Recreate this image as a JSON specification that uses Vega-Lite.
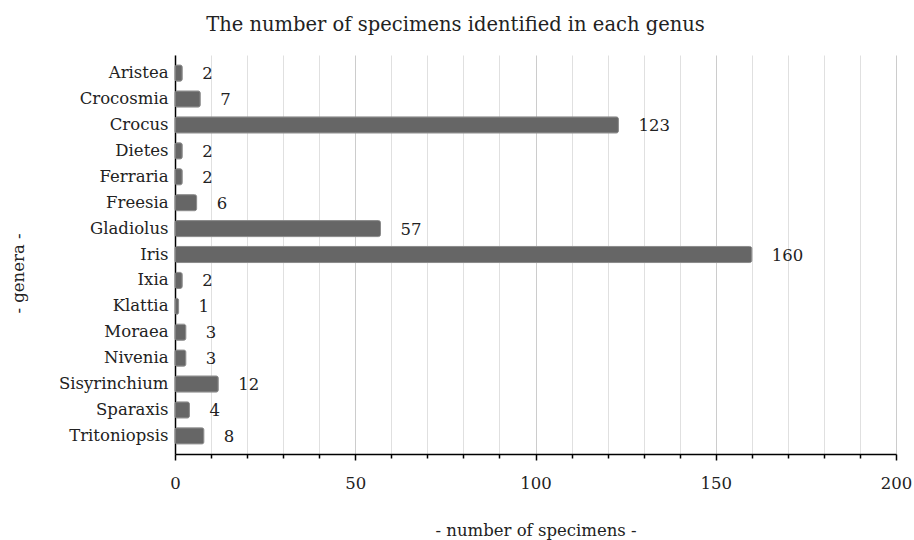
{
  "$schema": "https://vega.github.io/schema/vega-lite/v6.json",
  "width": 721,
  "height": 399,
  "autosize": {"type": "none"},
  "padding": {"left": 175, "top": 55, "right": 18, "bottom": 86},
  "background": "white",
  "title": {
    "text": "The number of specimens identified in each genus",
    "font": "DejaVu Serif",
    "fontSize": 19.5,
    "fontWeight": "normal",
    "color": "#222222",
    "anchor": "middle",
    "dx": -80,
    "offset": 20
  },
  "data": {
    "values": [
      {"genus": "Aristea", "count": 2},
      {"genus": "Crocosmia", "count": 7},
      {"genus": "Crocus", "count": 123},
      {"genus": "Dietes", "count": 2},
      {"genus": "Ferraria", "count": 2},
      {"genus": "Freesia", "count": 6},
      {"genus": "Gladiolus", "count": 57},
      {"genus": "Iris", "count": 160},
      {"genus": "Ixia", "count": 2},
      {"genus": "Klattia", "count": 1},
      {"genus": "Moraea", "count": 3},
      {"genus": "Nivenia", "count": 3},
      {"genus": "Sisyrinchium", "count": 12},
      {"genus": "Sparaxis", "count": 4},
      {"genus": "Tritoniopsis", "count": 8}
    ]
  },
  "config": {
    "view": {"stroke": null},
    "font": "DejaVu Serif"
  },
  "encoding": {
    "y": {
      "field": "genus",
      "type": "nominal",
      "sort": null,
      "scale": {"paddingInner": 0.38, "paddingOuter": 0.39},
      "axis": {
        "title": "- genera -",
        "titleFont": "DejaVu Serif",
        "titleFontSize": 16.5,
        "titleFontWeight": "normal",
        "titleColor": "#222222",
        "titleX": -157,
        "titleY": 218,
        "titleAngle": -90,
        "titleAlign": "center",
        "titleBaseline": "middle",
        "labelFont": "DejaVu Serif",
        "labelFontSize": 16.5,
        "labelColor": "#222222",
        "labelPadding": 7,
        "ticks": false,
        "domainColor": "#000000",
        "domainWidth": 1.5
      }
    },
    "x": {
      "field": "count",
      "type": "quantitative",
      "scale": {"domain": [0, 200], "nice": false},
      "axis": {
        "title": "- number of specimens -",
        "titleFont": "DejaVu Serif",
        "titleFontSize": 16.5,
        "titleFontWeight": "normal",
        "titleColor": "#222222",
        "titlePadding": 31,
        "values": [0, 10, 20, 30, 40, 50, 60, 70, 80, 90, 100, 110, 120, 130, 140, 150, 160, 170, 180, 190, 200],
        "labelExpr": "datum.value % 50 === 0 ? datum.label : ''",
        "labelFont": "DejaVu Serif",
        "labelFontSize": 16.5,
        "labelColor": "#222222",
        "labelPadding": 15,
        "labelFlush": false,
        "grid": true,
        "gridColor": {"condition": {"test": "datum.value % 50 === 0", "value": "#cccccc"}, "value": "#e0e0e0"},
        "gridWidth": 1,
        "tickColor": "#000000",
        "tickSize": {"condition": {"test": "datum.value % 50 === 0", "value": 6}, "value": 4},
        "tickWidth": 1.5,
        "domainColor": "#000000",
        "domainWidth": 1.5
      }
    }
  },
  "layer": [
    {
      "mark": {"type": "bar", "color": "#666666", "stroke": "#8a8a8a", "strokeWidth": 1, "cornerRadius": 2}
    },
    {
      "mark": {"type": "text", "align": "left", "baseline": "middle", "dx": 20, "dy": 1, "fontSize": 16.5, "color": "#222222", "font": "DejaVu Serif"},
      "encoding": {"text": {"field": "count", "type": "quantitative"}}
    }
  ]
}
